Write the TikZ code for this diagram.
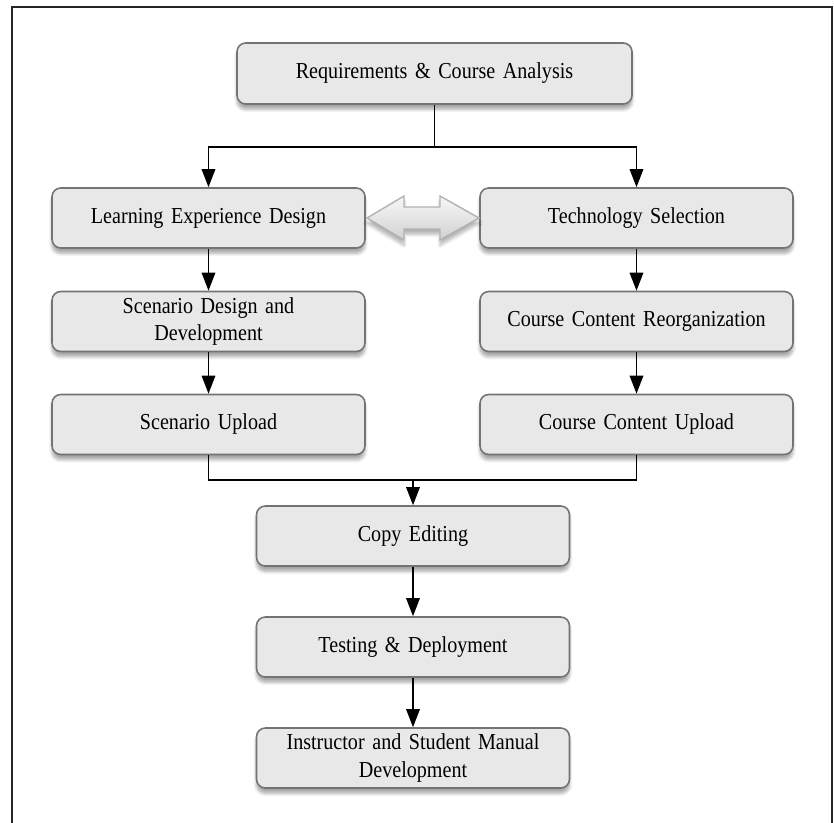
\documentclass[tikz,border=0pt]{standalone}
\usepackage{fontspec}
\setmainfont[FakeStretch=0.88,WordSpace=0.8]{Liberation Serif}
\usetikzlibrary{arrows.meta,shadows.blur}

\begin{document}
\begin{tikzpicture}[
    stepbox/.style={
        draw=black!55, line width=0.9pt, fill=black!9,
        rounded corners=5pt,
        minimum width=6.26cm, minimum height=1.2cm,
        align=center, text width=6.0cm, inner xsep=2pt,
        font=\fontsize{13}{15.5}\selectfont,
        blur shadow={shadow xshift=0pt, shadow yshift=-3pt, shadow blur steps=6, shadow opacity=35}
    },
    flow/.style={black, line width=0.9pt},
    flowarrow/.style={flow, -{Triangle[width=0.27cm,length=0.36cm]}},
    twoway/.style={draw=black!30, line width=0.8pt, top color=black!3, bottom color=black!18,
        blur shadow={shadow xshift=0pt, shadow yshift=-3pt, shadow blur steps=6, shadow opacity=30}},
    frame/.style={black!85, line width=0.8pt}
    ]
    \useasboundingbox (0,0) rectangle (16.68,-16.46);
    \draw[frame] (0.24,-16.46) -- (0.24,-0.14) -- (16.64,-0.14) -- (16.64,-16.46);

    % boxes
    \node[stepbox, minimum width=7.9cm, minimum height=1.22cm, text width=7.6cm] (req) at (8.69,-1.47) {Requirements \& Course Analysis};
    \node[stepbox] (led) at (4.17,-4.36) {Learning Experience Design};
    \node[stepbox] (ts) at (12.73,-4.36) {Technology Selection};
    \node[stepbox] (sdd) at (4.17,-6.43) {Scenario Design and\\Development};
    \node[stepbox] (ccr) at (12.73,-6.43) {Course Content Reorganization};
    \node[stepbox] (su) at (4.17,-8.49) {Scenario Upload};
    \node[stepbox] (ccu) at (12.73,-8.49) {Course Content Upload};
    \node[stepbox] (ce) at (8.26,-10.72) {Copy Editing};
    \node[stepbox] (td) at (8.26,-12.94) {Testing \& Deployment};
    \node[stepbox] (ism) at (8.26,-15.16) {Instructor and Student Manual\\Development};

    % two-way arrow between the design tracks
    \path[twoway] (7.34,-4.36) -- (8.08,-3.92) -- (8.08,-4.14) -- (8.80,-4.14) -- (8.80,-3.92)
        -- (9.58,-4.36) -- (8.80,-4.80) -- (8.80,-4.58) -- (8.08,-4.58) -- (8.08,-4.80) -- cycle;

    % connectors
    \coordinate (fork) at (8.70,-2.94);
    \coordinate (join) at (8.26,-9.60);
    \draw[flow] (req.south) -- (req.south |- fork);
    \draw[flowarrow] (req.south |- fork) -| (led.north);
    \draw[flowarrow] (req.south |- fork) -| (ts.north);
    \draw[flowarrow] (led) -- (sdd);
    \draw[flowarrow] (ts) -- (ccr);
    \draw[flowarrow] (sdd) -- (su);
    \draw[flowarrow] (ccr) -- (ccu);
    \draw[flow] (su.south) -- (su.south |- join) -| (ccu.south);
    \draw[flowarrow] (join) -- (ce.north);
    \draw[flowarrow] (ce) -- (td);
    \draw[flowarrow] (td) -- (ism);
\end{tikzpicture}
\end{document}
